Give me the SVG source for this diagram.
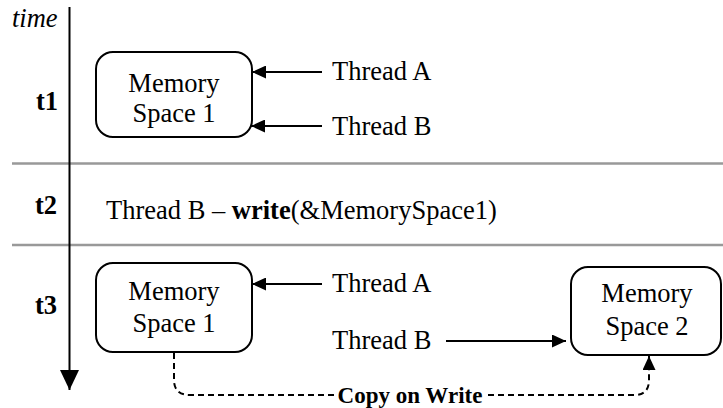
<svg xmlns="http://www.w3.org/2000/svg" width="723" height="408" viewBox="0 0 723 408" font-family="'Liberation Serif', 'Times New Roman', Times, 'DejaVu Serif', serif">
<style>
text{font-family:'Liberation Serif','Times New Roman',Times,'DejaVu Serif',serif;fill:#000}
.lbl{font-size:26.5px}
.b{font-weight:bold}
.box{fill:#fff;stroke:#000;stroke-width:2}
.sep{stroke:#999;stroke-width:2.5}
.con{stroke:#000;stroke-width:2;fill:none}
.dash{stroke:#000;stroke-width:2;fill:none;stroke-dasharray:6 4}
</style>
<defs>
<marker id="ah" markerWidth="14" markerHeight="13" refX="14" refY="6.5" orient="auto" markerUnits="userSpaceOnUse">
<path d="M0,0 L14,6.5 L0,13 Z" fill="#000"/>
</marker>
<marker id="ahBig" markerWidth="20" markerHeight="19" refX="20" refY="9.5" orient="auto" markerUnits="userSpaceOnUse">
<path d="M0,0 L20,9.5 L0,19 Z" fill="#000"/>
</marker>
</defs>
<g id="rows">
<line class="sep" x1="12" y1="163.5" x2="723" y2="163.5"/>
<line class="sep" x1="12" y1="245" x2="723" y2="245"/>
</g>
<g id="time-axis">
<line class="con" x1="69.5" y1="7" x2="69.5" y2="390" marker-end="url(#ahBig)"/>
<text class="lbl" x="12" y="27" font-style="italic">time</text>
<text class="lbl b" x="36" y="110">t1</text>
<text class="lbl b" x="35" y="214">t2</text>
<text class="lbl b" x="35" y="314">t3</text>
</g>
<g id="ms1-t1">
<rect class="box" x="96" y="52" width="156" height="85" rx="17"/>
<text class="lbl" x="174" y="92" text-anchor="middle">Memory</text>
<text class="lbl" x="174" y="122" text-anchor="middle">Space 1</text>
</g>
<g id="threadA-t1"><text class="lbl" x="332" y="80">Thread A</text></g>
<g id="threadB-t1"><text class="lbl" x="332" y="135">Thread B</text></g>
<g id="write-t2"><text class="lbl" x="106" y="219">Thread B – <tspan class="b">write</tspan>(&amp;MemorySpace1)</text></g>
<g id="ms1-t3">
<rect class="box" x="96" y="263" width="156" height="89" rx="17"/>
<text class="lbl" x="174" y="300" text-anchor="middle">Memory</text>
<text class="lbl" x="174" y="332" text-anchor="middle">Space 1</text>
</g>
<g id="threadA-t3"><text class="lbl" x="332" y="292">Thread A</text></g>
<g id="threadB-t3"><text class="lbl" x="332" y="349">Thread B</text></g>
<g id="ms2-t3">
<rect class="box" x="571" y="267" width="150" height="88" rx="17"/>
<text class="lbl" x="647" y="302" text-anchor="middle">Memory</text>
<text class="lbl" x="647" y="335" text-anchor="middle">Space 2</text>
</g>
<g id="connectors">
<line class="con" x1="322" y1="72" x2="252" y2="72" marker-end="url(#ah)"/>
<line class="con" x1="322" y1="126" x2="251" y2="126" marker-end="url(#ah)"/>
<line class="con" x1="322" y1="284" x2="252" y2="284" marker-end="url(#ah)"/>
<line class="con" x1="446" y1="341" x2="566" y2="341" marker-end="url(#ah)"/>
<path class="dash" d="M174,353 L174,380 Q174,395 190,395 L634,395 Q649,395 649,380 L649,356" marker-end="url(#ah)"/>
<rect x="335" y="384" width="150" height="22" fill="#fff"/>
<text x="410" y="403" text-anchor="middle" font-size="23" font-weight="bold">Copy on Write</text>
</g>
</svg>
